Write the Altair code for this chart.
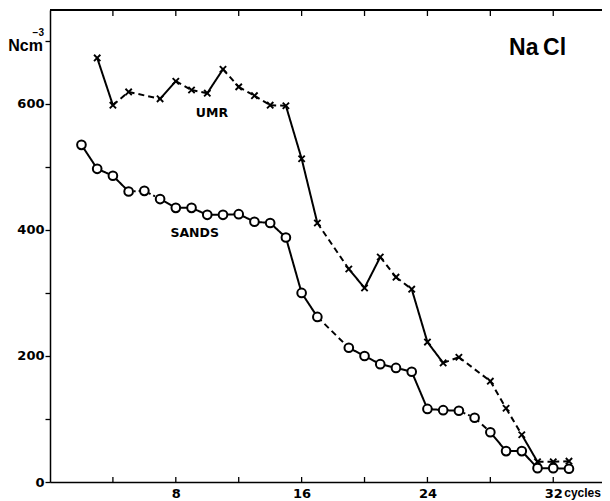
import altair as alt
import pandas as pd

# ---- data ----
umr_cycles = [3, 4, 5, 7, 8, 9, 10, 11, 12, 13, 14, 15, 16, 17, 19, 20, 21, 22, 23, 24, 25, 26, 28, 29, 30, 31, 32, 33]
umr_values = [673, 598, 619, 608, 636, 622, 617, 655, 627, 613, 598, 597, 513, 411, 338, 308, 357, 325, 306, 222, 189, 198, 160, 117, 75, 32, 32, 33]
umr_styles = ["solid", "dash", "dash", "solid", "dash", "dash", "solid", "dash", "dash", "dash", "dash",
              "solid", "solid", "dash", "solid", "solid", "dash", "dash", "solid", "solid", "dash", "dash",
              "dash", "dash", "solid", "dash", "dash"]

sands_cycles = [2, 3, 4, 5, 6, 7, 8, 9, 10, 11, 12, 13, 14, 15, 16, 17, 19, 20, 21, 22, 23, 24, 25, 26, 27, 28, 29, 30, 31, 32, 33]
sands_values = [535, 497, 486, 461, 462, 449, 435, 435, 424, 424, 425, 413, 411, 388, 300, 262, 213, 200, 187, 181, 175, 116, 114, 113, 102, 79, 49, 49, 22, 22, 21]
sands_styles = ["solid", "solid", "solid", "dot", "dot", "solid", "solid", "solid", "solid", "solid", "solid",
                "solid", "solid", "solid", "solid", "dash", "solid", "solid", "solid", "solid", "solid",
                "solid", "solid", "dot", "dash", "solid", "solid", "solid", "solid", "solid"]

x_ticks = [4, 8, 12, 16, 20, 24, 28, 32]
x_labels = [8, 16, 24, 32]
y_ticks = [0, 100, 200, 300, 400, 500, 600, 700]

labels = ["UMR", "SANDS"]
label_x = [10.3, 9.2]
label_y = [586, 395]

title_text = "Na\u2009Cl"
title_x = 31.0
title_y = 689

unit_text = "Ncm"
unit_sup = "−3"
unit_value = 700
x_unit = "cycles"

W, H = 552, 472
XMAX, YMAX = 35.1, 749
FONT = "Liberation Sans"
AXFONT = "DejaVu Sans"


def segments(name, xs, ys, styles):
    rows = []
    for i, st in enumerate(styles):
        for j in (i, i + 1):
            rows.append({"seg": f"{name}{i}", "style": st, "x": xs[j], "y": ys[j]})
    return rows


seg_df = pd.DataFrame(segments("u", umr_cycles, umr_values, umr_styles)
                      + segments("s", sands_cycles, sands_values, sands_styles))
umr_df = pd.DataFrame({"x": umr_cycles, "y": umr_values})
sands_df = pd.DataFrame({"x": sands_cycles, "y": sands_values})
xt_df = pd.DataFrame({"t": x_ticks})
lab_df = pd.DataFrame({"label": labels, "x": label_x, "y": label_y})
title_df = pd.DataFrame({"label": [title_text], "x": [title_x], "y": [title_y]})
cyc_df = pd.DataFrame({"label": [x_unit], "x": [x_labels[-1]], "y": [0]})
unit_df = pd.DataFrame({"label": [unit_text], "sup": [unit_sup], "x": [0], "y": [unit_value]})

xs = alt.Scale(domain=[0, XMAX], nice=False, zero=False)
ys = alt.Scale(domain=[0, YMAX], nice=False)

lines = alt.Chart(seg_df).mark_line(color="black", strokeWidth=2).encode(
    x=alt.X("x:Q", scale=xs, axis=alt.Axis(
        values=x_labels, ticks=False, tickSize=0, grid=False, title=None,
        labelPadding=5, labelFontSize=13, labelFont=AXFONT, labelFontWeight="bold",
        labelColor="black", domainColor="black", domainWidth=1.5)),
    y=alt.Y("y:Q", scale=ys, axis=alt.Axis(
        values=y_ticks, grid=False, title=None, tickSize=5, tickColor="black", tickWidth=1.3,
        labelExpr="datum.value % 200 == 0 && datum.value < 700 ? datum.label : ''",
        labelPadding=1, labelFontSize=13, labelFont=AXFONT, labelFontWeight="bold",
        labelColor="black", domainColor="black", domainWidth=1.5)),
    detail="seg:N",
    strokeDash=alt.StrokeDash("style:N", scale=alt.Scale(
        domain=["solid", "dash", "dot"], range=[[1, 0], [6, 4], [2, 3]]), legend=None),
)

xpath = "M-1,-1L1,1M-1,1L1,-1"
umr_pts = alt.Chart(umr_df).mark_point(shape=xpath, size=40, stroke="black", strokeWidth=1.9,
                                       filled=False, opacity=1).encode(
    x=alt.X("x:Q", scale=xs), y=alt.Y("y:Q", scale=ys))

sands_pts = alt.Chart(sands_df).mark_point(shape="circle", size=75, filled=True, fill="white",
                                           stroke="black", strokeWidth=2, opacity=1).encode(
    x=alt.X("x:Q", scale=xs), y=alt.Y("y:Q", scale=ys))

top_border = alt.Chart(xt_df).mark_rule(color="black", strokeWidth=1.5).encode(
    x=alt.value(0), x2=alt.value(W), y=alt.value(0))
top_ticks = alt.Chart(xt_df).mark_rule(color="black", strokeWidth=1.3).encode(
    x=alt.X("t:Q", scale=xs), y=alt.value(0), y2=alt.value(6))
bot_ticks = alt.Chart(xt_df).mark_rule(color="black", strokeWidth=1.3).encode(
    x=alt.X("t:Q", scale=xs), y=alt.value(H), y2=alt.value(H - 5))

series_labels = alt.Chart(lab_df).mark_text(font=AXFONT, fontSize=12.5, fontWeight="bold",
                                            color="black").encode(
    x=alt.X("x:Q", scale=xs), y=alt.Y("y:Q", scale=ys), text="label:N")
title = alt.Chart(title_df).mark_text(font=FONT, fontSize=23, fontWeight="bold",
                                      color="black").encode(
    x=alt.X("x:Q", scale=xs), y=alt.Y("y:Q", scale=ys), text="label:N")
cycles = alt.Chart(cyc_df).mark_text(font=FONT, fontSize=12, fontWeight="bold", color="black",
                                     align="left", baseline="top", dx=11, dy=6).encode(
    x=alt.X("x:Q", scale=xs), y=alt.Y("y:Q", scale=ys), text="label:N")
unit_main = alt.Chart(unit_df).mark_text(font=FONT, fontSize=16, fontWeight="bold", color="black",
                                         align="right", baseline="alphabetic", dx=-7, dy=10).encode(
    x=alt.X("x:Q", scale=xs), y=alt.Y("y:Q", scale=ys), text="label:N")
unit_super = alt.Chart(unit_df).mark_text(font=FONT, fontSize=10, fontWeight="bold", color="black",
                                          align="right", baseline="alphabetic", dx=-6, dy=-5).encode(
    x=alt.X("x:Q", scale=xs), y=alt.Y("y:Q", scale=ys), text="sup:N")

chart = alt.layer(lines, top_border, top_ticks, bot_ticks, umr_pts, sands_pts,
                  series_labels, title, cycles, unit_main, unit_super).properties(
    width=W, height=H,
    autosize=alt.AutoSizeParams(type="none"),
    padding={"left": 42, "top": 2, "right": 0, "bottom": 18},
).configure_view(stroke=None).configure(background="white")

chart.save("out.html", embed_options={"renderer": "svg", "actions": False})
